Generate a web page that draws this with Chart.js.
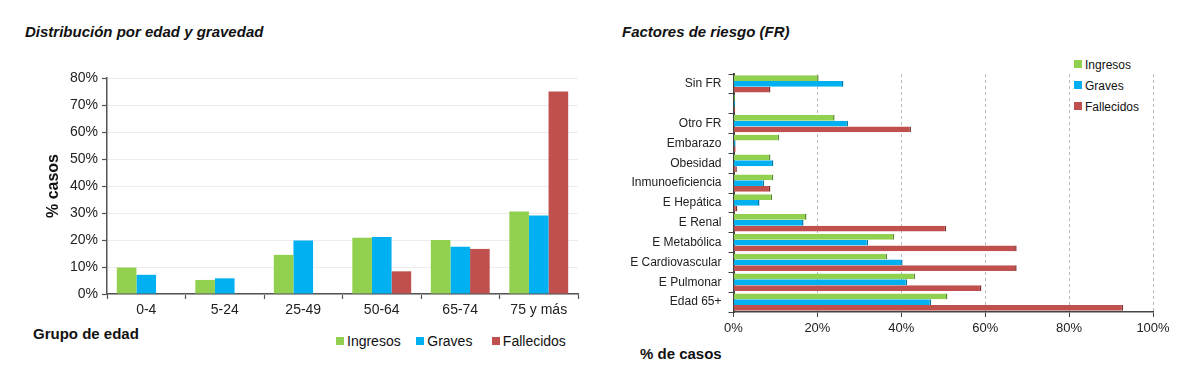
<!DOCTYPE html>
<html lang="es">
<head>
<meta charset="utf-8">
<title>Distribución por edad y gravedad / Factores de riesgo</title>
<script src="https://cdn.jsdelivr.net/npm/chart.js"></script>
<style>
  html,body{margin:0;padding:0;background:#fff}
  body{width:1200px;height:380px;position:relative;overflow:hidden;font-family:"Liberation Sans",Arial,sans-serif;color:#111}
  canvas{position:absolute;top:0}
  #left{left:0}
  #right{left:600px}
  .title{position:absolute;top:23px;font-size:15px;font-weight:bold;font-style:italic}
  .axis-name{position:absolute;font-size:15px;font-weight:bold}
  .legend{position:absolute;font-size:14px;white-space:nowrap}
  .legend span.sw{display:inline-block;width:8px;height:8px;margin-right:3px;vertical-align:1px}
  .legend.vert{font-size:12px}
  .legend.vert div{height:21px}
</style>
</head>
<body>
<div class="title" style="left:25px">Distribución por edad y gravedad</div>
<div class="title" style="left:622px">Factores de riesgo (FR)</div>
<div class="axis-name" style="left:33px;top:325px">Grupo de edad</div>
<div class="axis-name" style="left:640px;top:345px">% de casos</div>

<div class="legend" style="left:336px;top:333px">
  <span class="sw" style="background:#92d050"></span>Ingresos&nbsp;&nbsp;&nbsp;
  <span class="sw" style="background:#00b0f0"></span>Graves&nbsp;&nbsp;&nbsp;&nbsp;
  <span class="sw" style="background:#c0504d"></span>Fallecidos
</div>
<div class="legend vert" style="left:1074px;top:58px">
  <div><span class="sw" style="background:#92d050"></span>Ingresos</div>
  <div><span class="sw" style="background:#00b0f0"></span>Graves</div>
  <div><span class="sw" style="background:#c0504d"></span>Fallecidos</div>
</div>

<canvas id="left" width="600" height="380"></canvas>
<canvas id="right" width="600" height="380"></canvas>

<script>
// ---------- data: left chart (age groups) ----------
const ageGroups = ['0-4', '5-24', '25-49', '50-64', '65-74', '75 y más'];
const ageIngresos = [9.8, 5.2, 14.5, 20.8, 20.0, 30.6];
const ageGraves = [7.1, 5.8, 19.8, 21.1, 17.5, 29.1];
const ageFallecidos = [null, null, null, 8.4, 16.7, 75.0];

// ---------- data: right chart (risk factors) ----------
const riskFactors = ['Sin FR', '', 'Otro FR', 'Embarazo', 'Obesidad', 'Inmunoeficiencia',
  'E Hepática', 'E Renal', 'E Metabólica', 'E Cardiovascular', 'E Pulmonar', 'Edad 65+'];
const riskIngresos = [20.3, 0.4, 24.1, 10.9, 8.8, 9.5, 9.2, 17.4, 38.3, 36.6, 43.3, 51.0];
const riskGraves = [26.2, 0.4, 27.3, 0.5, 9.5, 7.3, 6.2, 16.7, 32.1, 40.3, 41.4, 47.1];
const riskFallecidos = [8.8, 0.4, 42.3, 0.5, 0.8, 8.8, 0.9, 50.7, 67.5, 67.5, 59.1, 92.9];

const GREEN = '#92d050', BLUE = '#00b0f0', RED = '#c0504d';
const FONT = '"Liberation Sans", Arial, sans-serif';
const pct = (v) => v + '%';

Chart.defaults.font.family = FONT;
Chart.defaults.color = '#222';
Chart.defaults.animation = false;

// left: vertical grouped bars
new Chart(document.getElementById('left'), {
  type: 'bar',
  data: {
    labels: ageGroups,
    datasets: [
      { label: 'Ingresos', data: ageIngresos, backgroundColor: GREEN },
      { label: 'Graves', data: ageGraves, backgroundColor: BLUE },
      { label: 'Fallecidos', data: ageFallecidos, backgroundColor: RED },
    ],
  },
  options: {
    responsive: false,
    layout: { padding: { left: 40, top: 78, right: 22, bottom: 0 } },
    datasets: { bar: { categoryPercentage: 0.75, barPercentage: 1 } },
    plugins: { legend: { display: false }, tooltip: { enabled: false } },
    scales: {
      x: {
        afterFit: (s) => { s.height = 86; },
        grid: { drawOnChartArea: false, tickColor: '#555', tickLength: 5, tickWidth: 1.2 },
        border: { color: '#555', width: 1.5 },
        ticks: { font: { size: 14 }, padding: 3 },
      },
      y: {
        min: 0, max: 80,
        afterFit: (s) => { s.width = 67; },
        grid: { color: '#ececec', tickColor: '#555', tickLength: 5, tickWidth: 1.2 },
        border: { color: '#555', width: 1.5 },
        ticks: { stepSize: 10, callback: pct, font: { size: 14 }, padding: 4 },
        title: { display: true, text: '% casos', font: { size: 16, weight: 'bold' }, color: '#111' },
      },
    },
  },
});

// right: horizontal grouped bars
new Chart(document.getElementById('right'), {
  type: 'bar',
  data: {
    labels: riskFactors,
    datasets: [
      { label: 'Ingresos', data: riskIngresos, backgroundColor: GREEN, borderColor: '#5e8a34' },
      { label: 'Graves', data: riskGraves, backgroundColor: BLUE, borderColor: '#0479a6' },
      { label: 'Fallecidos', data: riskFallecidos, backgroundColor: RED, borderColor: '#7e2f2c' },
    ],
  },
  options: {
    indexAxis: 'y',
    responsive: false,
    layout: { padding: { left: 0, top: 74, right: 47, bottom: 0 } },
    datasets: { bar: { categoryPercentage: 0.87, barPercentage: 1, borderWidth: { top: 0, bottom: 0, right: 1.5, left: 0 } } },
    plugins: { legend: { display: false }, tooltip: { enabled: false } },
    scales: {
      x: {
        min: 0, max: 100,
        afterFit: (s) => { s.height = 68; },
        grid: { color: '#b8b8b8', tickColor: '#444', tickLength: 5, tickBorderDash: [] },
        border: { color: '#444', width: 1.5, dash: [3, 3] },
        ticks: { stepSize: 20, callback: pct, font: { size: 13 }, padding: 4 },
      },
      y: {
        afterFit: (s) => { s.width = 133.5; },
        grid: { drawOnChartArea: false, tickColor: '#444', tickLength: 5 },
        border: { color: '#444', width: 2 },
        ticks: { font: { size: 12 }, padding: 7, autoSkip: false },
      },
    },
  },
});
</script>
</body>
</html>
